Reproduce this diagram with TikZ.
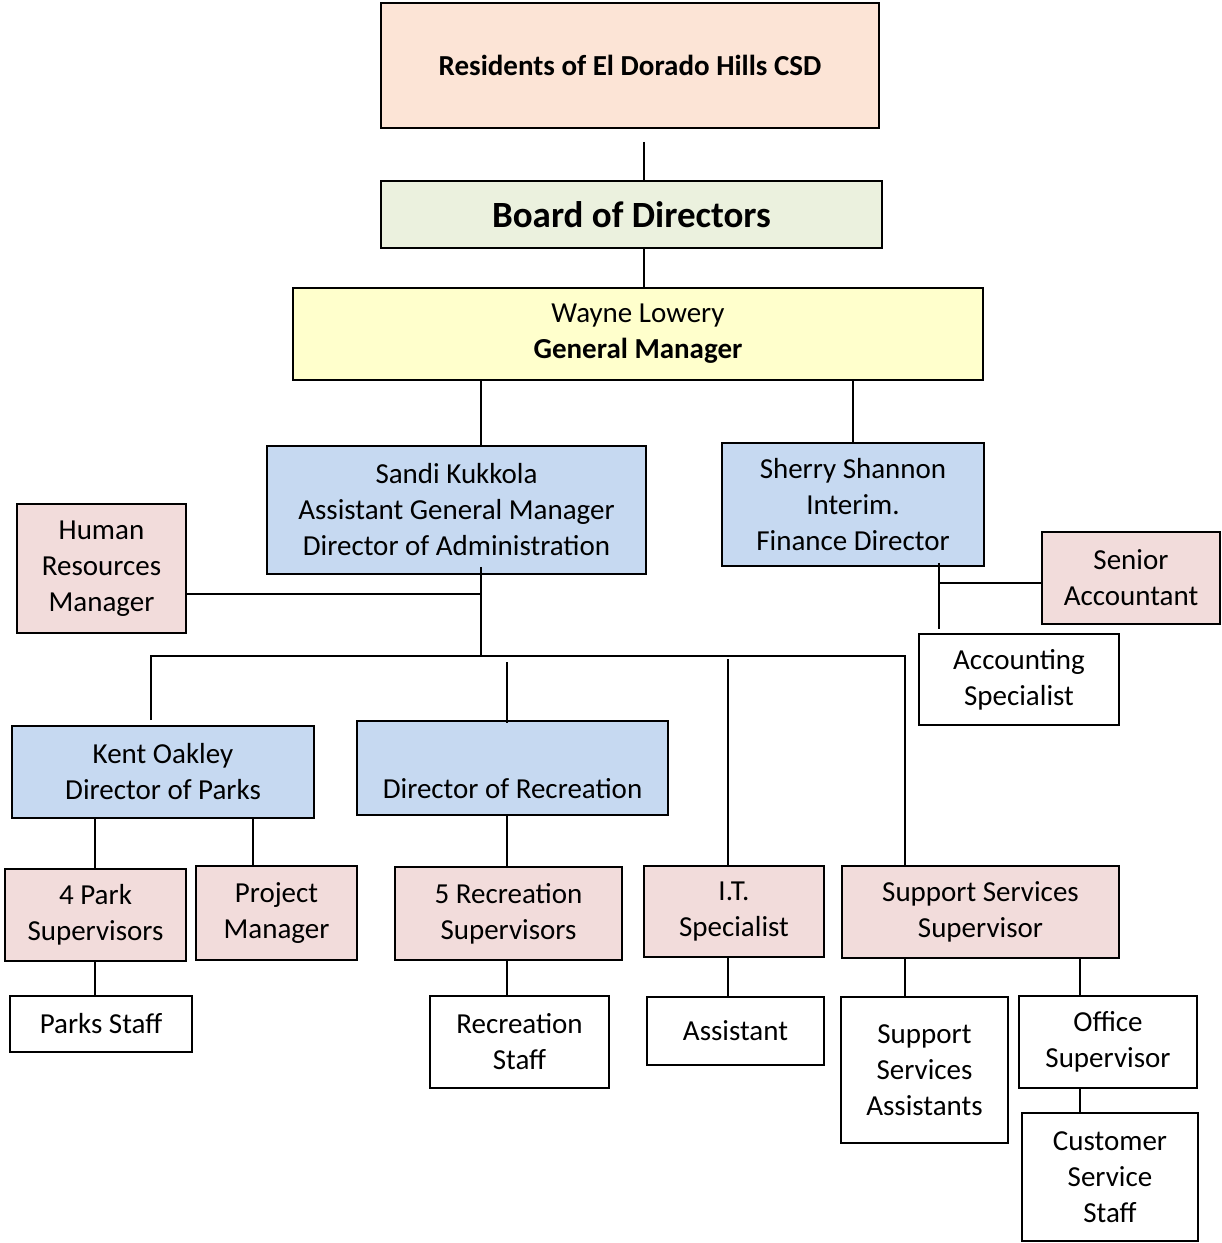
\documentclass[tikz,border=0pt]{standalone}
\usepackage{fontspec}
\setmainfont{Carlito}
\definecolor{cpeach}{HTML}{FCE4D6}
\definecolor{cgreen}{HTML}{EBF1DE}
\definecolor{cyellow}{HTML}{FFFFCC}
\definecolor{cblue}{HTML}{C6D9F1}
\definecolor{cpink}{HTML}{F2DCDB}
\newcommand\fsnorm{\fontsize{29}{36}\selectfont}
\newcommand\fsbig{\fontsize{37}{44}\selectfont\bfseries}
\begin{document}
\begin{tikzpicture}[x=1pt,y=-1pt,
  box/.style={draw=black, line width=1.8pt, inner sep=0pt, align=center, font=\fsnorm, fill=white},
  conn/.style={draw=black, line width=1.8pt}]
\useasboundingbox (0,0) rectangle (1222,1243);
% column coordinates
\coordinate (x95) at (95,0);
\coordinate (x151) at (151,0);
\coordinate (x253) at (253,0);
\coordinate (x481) at (481,0);
\coordinate (x507) at (507,0);
\coordinate (x644) at (644,0);
\coordinate (x728) at (728,0);
\coordinate (x853) at (853,0);
\coordinate (x905) at (905,0);
\coordinate (x939) at (939,0);
\coordinate (x1080) at (1080,0);
\coordinate (bus) at (481,656);
\coordinate (hrj) at (481,594);
\coordinate (saj) at (939,583);

% nodes
\node[box, fill=cpeach, minimum width=498, minimum height=125] (res) at (630,65.5) {\bfseries Residents of El Dorado Hills CSD};
\node[box, fill=cgreen, minimum width=501, minimum height=67, font=\fsbig] (board) at (631.5,214.5) {Board of Directors};
\node[box, fill=cyellow, minimum width=690, minimum height=92] (gm) at (638,334) {Wayne Lowery\\\textbf{General Manager}};
\node[box, fill=cblue, minimum width=379, minimum height=128] (sandi) at (456.5,510) {Sandi Kukkola\\Assistant General Manager\\Director of Administration};
\node[box, fill=cblue, minimum width=262, minimum height=123] (sherry) at (853,504.5) {Sherry Shannon\\Interim.\\Finance Director};
\node[box, fill=cpink, minimum width=169, minimum height=129] (hr) at (101.5,568.5) {Human\\Resources\\Manager};
\node[box, fill=cpink, minimum width=178, minimum height=92] (senior) at (1131,578) {Senior\\Accountant};
\node[box, minimum width=200, minimum height=91] (acct) at (1019,679.5) {Accounting\\Specialist};
\node[box, fill=cblue, minimum width=302, minimum height=92] (kent) at (163,772) {Kent Oakley\\Director of Parks};
\node[box, fill=cblue, minimum width=311, minimum height=94] (rec) at (512.5,768) {\strut\\Director of Recreation};
\node[box, fill=cpink, minimum width=181, minimum height=92] (park4) at (95.5,915) {4 Park\\Supervisors};
\node[box, fill=cpink, minimum width=161, minimum height=94] (pm) at (276.5,913) {Project\\Manager};
\node[box, fill=cpink, minimum width=227, minimum height=93] (rec5) at (508.5,913.5) {5 Recreation\\Supervisors};
\node[box, fill=cpink, minimum width=180, minimum height=91] (it) at (734,911.5) {I.T.\\Specialist};
\node[box, fill=cpink, minimum width=277, minimum height=92] (supsv) at (980.5,912) {Support Services\\Supervisor};
\node[box, minimum width=182, minimum height=56] (parks) at (101,1024) {Parks Staff};
\node[box, minimum width=179, minimum height=92] (recst) at (519.5,1042) {Recreation\\Staff};
\node[box, minimum width=177, minimum height=68] (asst) at (735.5,1031) {Assistant};
\node[box, minimum width=167, minimum height=146] (ssa) at (924.5,1070) {Support\\Services\\Assistants};
\node[box, minimum width=178, minimum height=92] (office) at (1108,1042) {Office\\Supervisor};
\node[box, minimum width=176, minimum height=128] (css) at (1110,1177) {Customer\\Service\\Staff};

% connectors
\draw[conn] ([yshift=-13pt]res.south -| x644) -- (board.north -| x644);
\draw[conn] (board.south -| x644) -- (gm.north -| x644);
\draw[conn] (gm.south -| x481) -- (sandi.north -| x481);
\draw[conn] (gm.south -| x853) -- (sherry.north -| x853);
\draw[conn] ([yshift=8pt]sandi.south -| x481) -- (bus);
\draw[conn] (hr.east |- hrj) -- (hrj);
\draw[conn] ([yshift=5pt]kent.north -| x151) |- (bus) -| (supsv.north -| x905);
\draw[conn] ([yshift=-6pt]bus -| x507) -- ([yshift=-3pt]rec.north -| x507);
\draw[conn] ([yshift=-3pt]bus -| x728) -- (it.north -| x728);
\draw[conn] ([yshift=4pt]sherry.south -| x939) -- ([yshift=4pt]acct.north -| x939);
\draw[conn] (saj) -- (senior.west |- saj);
\draw[conn] (kent.south -| x95) -- (park4.north -| x95);
\draw[conn] (kent.south -| x253) -- (pm.north -| x253);
\draw[conn] (park4.south -| x95) -- (parks.north -| x95);
\draw[conn] (rec.south -| x507) -- (rec5.north -| x507);
\draw[conn] (rec5.south -| x507) -- (recst.north -| x507);
\draw[conn] (it.south -| x728) -- (asst.north -| x728);
\draw[conn] (supsv.south -| x905) -- (ssa.north -| x905);
\draw[conn] (supsv.south -| x1080) -- (office.north -| x1080);
\draw[conn] (office.south -| x1080) -- (css.north -| x1080);
\end{tikzpicture}
\end{document}
